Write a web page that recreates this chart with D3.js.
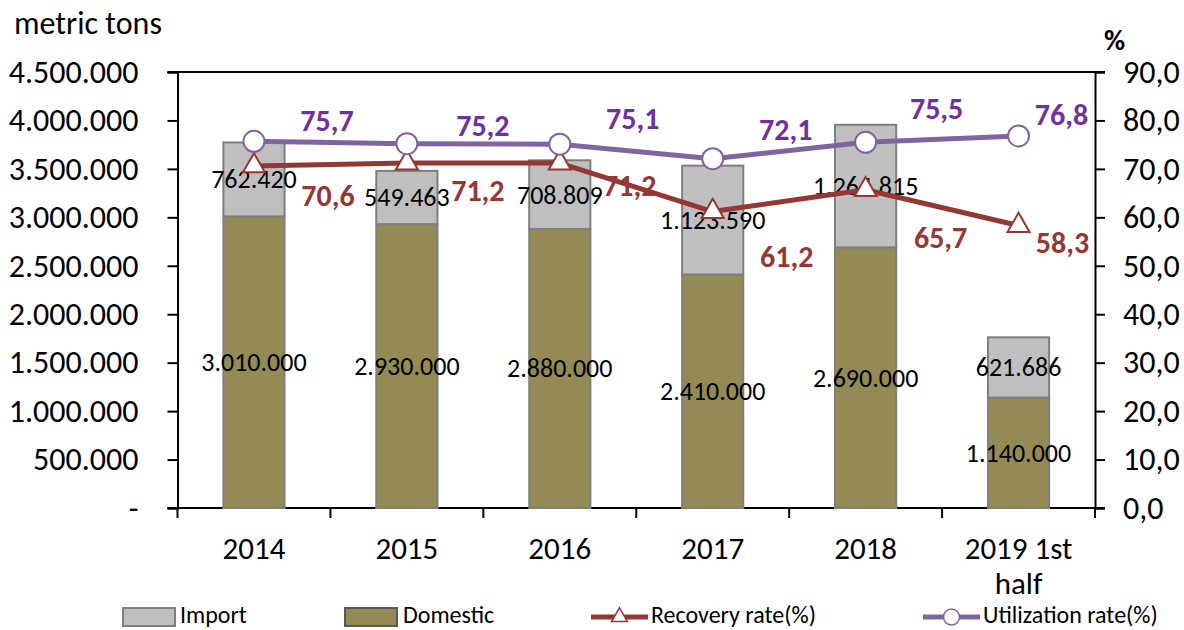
<!DOCTYPE html>
<html>
<head>
<meta charset="utf-8">
<script src="https://cdn.jsdelivr.net/npm/d3@7"></script>
<style>
  body { margin: 0; background: #fff; }
  svg { font-family: Carlito, Calibri, Lato, sans-serif; }
</style>
</head>
<body>
<div id="chart"></div>
<script>
/* Stacked bars (domestic + import) with recovery / utilization rate lines */

const years = ["2014", "2015", "2016", "2017", "2018", "2019 1st half"];
const domestic = [3010000, 2930000, 2880000, 2410000, 2690000, 1140000];
const imports = [762420, 549463, 708809, 1123590, 1264815, 621686];
const recovery = [70.6, 71.2, 71.2, 61.2, 65.7, 58.3];
const utilization = [75.7, 75.2, 75.1, 72.1, 75.5, 76.8];
const leftTicks = [0, 500000, 1000000, 1500000, 2000000, 2500000, 3000000, 3500000, 4000000, 4500000];
const rightTicks = [0, 10, 20, 30, 40, 50, 60, 70, 80, 90];

// label offsets in px, hand placed like in the original sheet
const utilNudge = [[73, -21], [76, -18], [73, -26], [73, -29], [71, -34], [43, -21]];
const recovNudge = [[74, 30], [71, 27], [70, 22], [74, 45], [75, 48], [44, 17]];

const width = 1184,
      height = 630,
      margin = ({ top: 72, right: 89, bottom: 122, left: 177.5 });

const colors = { imp: "#BFBFBF", dom: "#948A54", edge: "#7F7F7F", rec: "#953735", util: "#8064A2", utilText: "#7030A0" };

const loc = d3.formatLocale({ decimal: ",", thousands: ".", grouping: [3], currency: ["", ""] });
const fmtInt = loc.format(",");
const fmt1 = loc.format(",.1f");

let svg = d3.select("#chart")
    .append("svg")
    .attr("width", width)
    .attr("height", height);

let x = d3.scaleBand()
    .domain(years)
    .range([margin.left, width - margin.right])
    .paddingInner(0).paddingOuter(0);

let y = d3.scaleLinear()
    .domain([0, 4500000])
    .range([height - margin.bottom, margin.top]);

let y2 = d3.scaleLinear()
    .domain([0, 90])
    .range([height - margin.bottom, margin.top]);

const barW = x.bandwidth() * 0.4;
const cx = d => x(d) + x.bandwidth() / 2;

// axes
let yAxis = svg.append("g")
    .attr("transform", `translate(${margin.left},0)`)
    .call(d3.axisLeft(y).tickValues(leftTicks).tickSize(10).tickPadding(29)
        .tickFormat(d => d === 0 ? "-" : fmtInt(d)));

let y2Axis = svg.append("g")
    .attr("transform", `translate(${width - margin.right},0)`)
    .call(d3.axisRight(y2).tickValues(rightTicks).tickSize(10).tickPadding(18)
        .tickFormat(fmt1));

[yAxis, y2Axis].forEach(g => {
    g.attr("font-family", null).attr("font-size", null);
    g.select(".domain").attr("stroke", "#000").attr("stroke-width", 2);
    g.selectAll(".tick line").attr("stroke", "#000").attr("stroke-width", 2);
    g.selectAll(".tick text").attr("font-size", 32).attr("fill", "#000");
});

// top border and baseline
svg.append("line")
    .attr("x1", margin.left - 10).attr("x2", width - margin.right + 10)
    .attr("y1", y(4500000)).attr("y2", y(4500000))
    .attr("stroke", "#000").attr("stroke-width", 2);

svg.append("line")
    .attr("x1", margin.left - 10).attr("x2", width - margin.right + 10)
    .attr("y1", y(0)).attr("y2", y(0))
    .attr("stroke", "#000").attr("stroke-width", 2);

// category ticks between bands
svg.append("g")
    .selectAll("line")
    .data(years.concat(["_end"]))
    .join("line")
    .attr("x1", (d, i) => i < years.length ? x(d) : x(years[years.length - 1]) + x.bandwidth())
    .attr("x2", (d, i) => i < years.length ? x(d) : x(years[years.length - 1]) + x.bandwidth())
    .attr("y1", y(0)).attr("y2", y(0) + 10)
    .attr("stroke", "#000").attr("stroke-width", 2);

// category labels, wrapped to the band
let cat = svg.append("g")
    .selectAll("text")
    .data(years)
    .join("text")
    .attr("x", d => cx(d))
    .attr("y", 548)
    .attr("text-anchor", "middle")
    .attr("dominant-baseline", "central")
    .attr("font-size", 31)
    .attr("fill", "#000");

cat.each(function(d) {
    const t = d3.select(this);
    const words = d.split(" ");
    let line = [], lines = [];
    words.forEach(w => {
        t.text(line.concat([w]).join(" "));
        if (this.getComputedTextLength() > x.bandwidth() - 10 && line.length) {
            lines.push(line.join(" "));
            line = [w];
        } else line.push(w);
    });
    lines.push(line.join(" "));
    t.text(null);
    lines.forEach((l, i) => {
        t.append("tspan").attr("x", cx(d)).attr("dy", i === 0 ? 0 : 35).text(l);
    });
});

// bars
let bar = svg.selectAll(".bar")
    .data(years)
    .join("g")
    .attr("class", "bar");

bar.append("rect")
    .attr("x", d => cx(d) - barW / 2)
    .attr("width", barW)
    .attr("y", (d, i) => y(domestic[i]))
    .attr("height", (d, i) => y(0) - y(domestic[i]))
    .attr("fill", colors.dom)
    .attr("stroke", colors.edge).attr("stroke-width", 2);

bar.append("rect")
    .attr("x", d => cx(d) - barW / 2)
    .attr("width", barW)
    .attr("y", (d, i) => y(domestic[i] + imports[i]))
    .attr("height", (d, i) => y(domestic[i]) - y(domestic[i] + imports[i]))
    .attr("fill", colors.imp)
    .attr("stroke", colors.edge).attr("stroke-width", 2);

// rate lines
let rateLine = d3.line().x((d, i) => cx(years[i])).y(d => y2(d));

svg.append("path")
    .datum(recovery)
    .attr("d", rateLine)
    .attr("fill", "none")
    .attr("stroke", colors.rec)
    .attr("stroke-width", 5)
    .attr("stroke-linejoin", "round");

svg.append("path")
    .datum(utilization)
    .attr("d", rateLine)
    .attr("fill", "none")
    .attr("stroke", colors.util)
    .attr("stroke-width", 5)
    .attr("stroke-linejoin", "round");

const tri = d3.symbol(d3.symbolTriangle, 210);

svg.append("g")
    .selectAll("path")
    .data(recovery)
    .join("path")
    .attr("d", tri)
    .attr("transform", (d, i) => `translate(${cx(years[i])},${y2(d)})`)
    .attr("fill", "#fff")
    .attr("stroke", colors.rec)
    .attr("stroke-width", 2);

svg.append("g")
    .selectAll("circle")
    .data(utilization)
    .join("circle")
    .attr("cx", (d, i) => cx(years[i]))
    .attr("cy", d => y2(d))
    .attr("r", 10.5)
    .attr("fill", "#fff")
    .attr("stroke", colors.util)
    .attr("stroke-width", 2);

// bar value labels
bar.append("text")
    .text((d, i) => fmtInt(domestic[i]))
    .attr("x", d => cx(d))
    .attr("y", (d, i) => (y(0) + y(domestic[i])) / 2)
    .attr("text-anchor", "middle")
    .attr("dominant-baseline", "central")
    .attr("font-size", 26)
    .attr("fill", "#000");

bar.append("text")
    .text((d, i) => fmtInt(imports[i]))
    .attr("x", d => cx(d))
    .attr("y", (d, i) => (y(domestic[i]) + y(domestic[i] + imports[i])) / 2)
    .attr("text-anchor", "middle")
    .attr("dominant-baseline", "central")
    .attr("font-size", 26)
    .attr("fill", "#000");

// rate labels
svg.append("g")
    .selectAll("text")
    .data(recovery)
    .join("text")
    .text(d => fmt1(d))
    .attr("x", (d, i) => cx(years[i]) + recovNudge[i][0])
    .attr("y", (d, i) => y2(d) + recovNudge[i][1])
    .attr("text-anchor", "middle")
    .attr("dominant-baseline", "central")
    .attr("font-size", 30)
    .attr("font-weight", "bold")
    .attr("fill", colors.rec);

svg.append("g")
    .selectAll("text")
    .data(utilization)
    .join("text")
    .text(d => fmt1(d))
    .attr("x", (d, i) => cx(years[i]) + utilNudge[i][0])
    .attr("y", (d, i) => y2(d) + utilNudge[i][1])
    .attr("text-anchor", "middle")
    .attr("dominant-baseline", "central")
    .attr("font-size", 30)
    .attr("font-weight", "bold")
    .attr("fill", colors.utilText);

// axis titles
svg.append("text")
    .attr("x", 14).attr("y", 34)
    .attr("font-size", 32)
    .text("metric tons");

svg.append("text")
    .attr("x", 1104).attr("y", 50)
    .attr("font-size", 29)
    .attr("font-weight", "bold")
    .text("%");

// legend
const legY = 617;
let leg = svg.append("g").attr("font-size", 24);

leg.append("rect").attr("x", 123).attr("y", legY - 9).attr("width", 52).attr("height", 18)
    .attr("fill", colors.imp).attr("stroke", colors.edge).attr("stroke-width", 2);
leg.append("text").attr("x", 180).attr("y", legY - 3).attr("dominant-baseline", "central").text("Import");

leg.append("rect").attr("x", 345).attr("y", legY - 9).attr("width", 52).attr("height", 18)
    .attr("fill", colors.dom).attr("stroke", "#595959").attr("stroke-width", 2);
leg.append("text").attr("x", 403).attr("y", legY - 3).attr("dominant-baseline", "central").text("Domestic");

leg.append("line").attr("x1", 591).attr("x2", 648).attr("y1", legY).attr("y2", legY)
    .attr("stroke", colors.rec).attr("stroke-width", 5);
leg.append("path").attr("d", d3.symbol(d3.symbolTriangle, 110))
    .attr("transform", `translate(619.5,${legY})`)
    .attr("fill", "#fff").attr("stroke", colors.rec).attr("stroke-width", 1.5);
leg.append("text").attr("x", 651).attr("y", legY - 3).attr("dominant-baseline", "central").text("Recovery rate(%)");

leg.append("line").attr("x1", 923).attr("x2", 980).attr("y1", legY).attr("y2", legY)
    .attr("stroke", colors.util).attr("stroke-width", 5);
leg.append("circle").attr("cx", 951.5).attr("cy", legY).attr("r", 8)
    .attr("fill", "#fff").attr("stroke", colors.util).attr("stroke-width", 1.5);
leg.append("text").attr("x", 983).attr("y", legY - 3).attr("dominant-baseline", "central").text("Utilization rate(%)");
</script>
</body>
</html>
